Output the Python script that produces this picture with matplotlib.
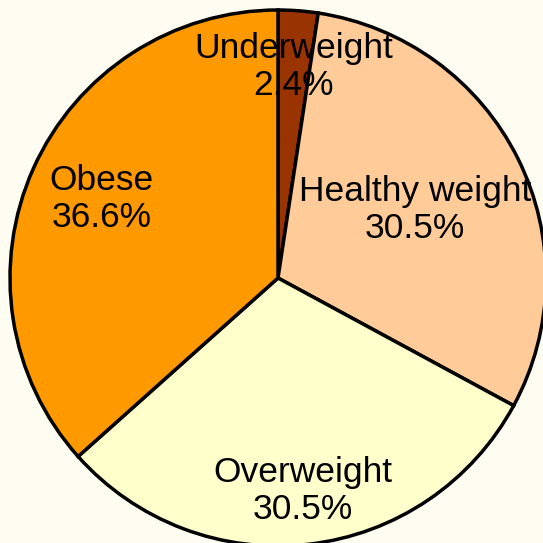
import matplotlib.pyplot as plt
import numpy as np

categories = ["Underweight", "Healthy weight", "Overweight", "Obese"]
shares = [2.4, 30.5, 30.5, 36.6]
colors = ["#993300", "#FFCC99", "#FFFFCC", "#FF9900"]
label_dist = [0.79, 0.57, 0.80, 0.72]

plt.rcParams['font.family'] = ['Liberation Sans', 'DejaVu Sans']

fig = plt.figure(figsize=(5.43, 5.43), dpi=100, facecolor="#FFFDF2")
ax = fig.add_axes([0, 0, 1, 1])
ax.set_facecolor("#FFFDF2")

cx, cy, r = 278, 543 - 278, 268
wedges, _ = ax.pie(shares, colors=colors, startangle=90, counterclock=False,
                   center=(cx, cy), radius=r,
                   wedgeprops=dict(edgecolor="black", linewidth=2.5))

# labels placed along each wedge's mid angle
for w, name, val, d in zip(wedges, categories, shares, label_dist):
    ang = np.deg2rad((w.theta1 + w.theta2) / 2)
    x = cx + d * r * np.cos(ang)
    y = cy + d * r * np.sin(ang)
    ax.text(x, y, f"{name}\n{val:.1f}%", ha="center", va="center",
            fontsize=25.5, linespacing=1.15)

ax.set_xlim(0, 543)
ax.set_ylim(0, 543)
ax.set_aspect("equal")
ax.axis("off")
fig.savefig("out.png", dpi=100, facecolor=fig.get_facecolor())
